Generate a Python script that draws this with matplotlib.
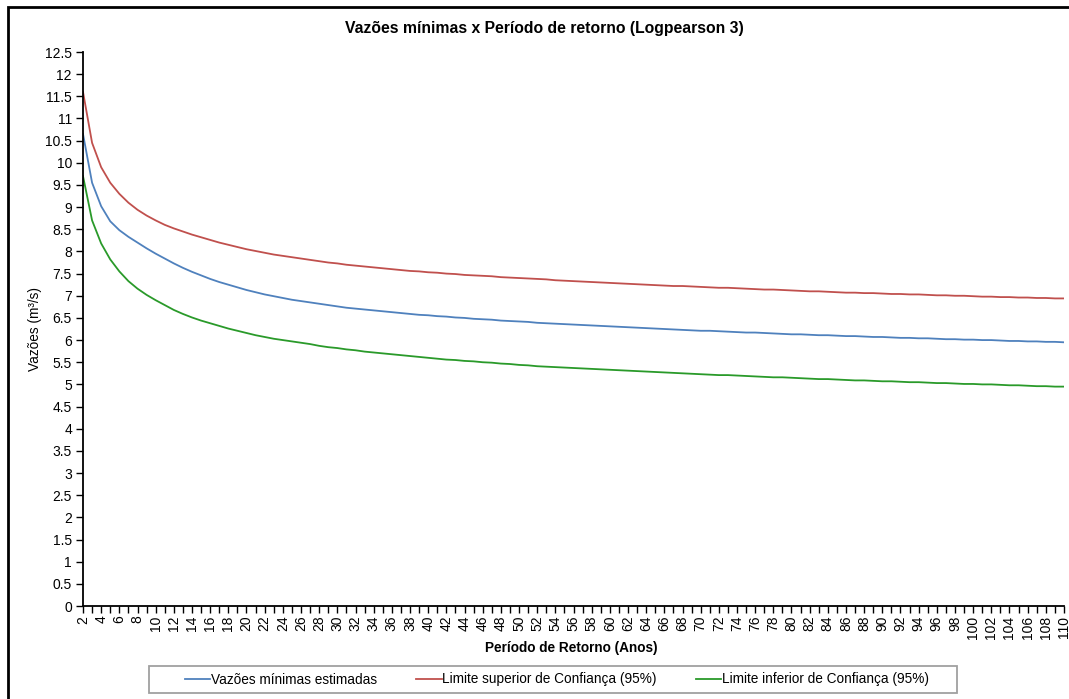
import numpy as np
import matplotlib
matplotlib.use('Agg')
import matplotlib.pyplot as plt
from matplotlib.patches import Rectangle

plt.rcParams['font.family'] = ['Liberation Sans', 'DejaVu Sans']

# Periodo de retorno (anos)
periodo = list(range(2, 111))

vazao_estimada = [
    10.65, 9.55, 9.02, 8.68, 8.48, 8.33, 8.20, 8.07, 7.95, 7.84,
    7.73, 7.63, 7.54, 7.46, 7.38, 7.31, 7.25, 7.19, 7.13, 7.08,
    7.03, 6.99, 6.95, 6.91, 6.88, 6.85, 6.82, 6.79, 6.76, 6.73,
    6.71, 6.69, 6.67, 6.65, 6.63, 6.61, 6.59, 6.57, 6.56, 6.54,
    6.53, 6.51, 6.50, 6.48, 6.47, 6.46, 6.44, 6.43, 6.42, 6.41,
    6.39, 6.38, 6.37, 6.36, 6.35, 6.34, 6.33, 6.32, 6.31, 6.30,
    6.29, 6.28, 6.27, 6.26, 6.25, 6.24, 6.23, 6.22, 6.21, 6.21,
    6.20, 6.19, 6.18, 6.17, 6.17, 6.16, 6.15, 6.14, 6.13, 6.13,
    6.12, 6.11, 6.11, 6.10, 6.09, 6.09, 6.08, 6.07, 6.07, 6.06,
    6.05, 6.05, 6.04, 6.04, 6.03, 6.02, 6.02, 6.01, 6.01, 6.00,
    6.00, 5.99, 5.98, 5.98, 5.97, 5.97, 5.96, 5.96, 5.95]

limite_superior = [
    11.60, 10.45, 9.90, 9.55, 9.30, 9.10, 8.94, 8.81, 8.70, 8.60,
    8.52, 8.45, 8.38, 8.32, 8.26, 8.20, 8.15, 8.10, 8.05, 8.01,
    7.97, 7.93, 7.90, 7.87, 7.84, 7.81, 7.78, 7.75, 7.73, 7.70,
    7.68, 7.66, 7.64, 7.62, 7.60, 7.58, 7.56, 7.55, 7.53, 7.52,
    7.50, 7.49, 7.47, 7.46, 7.45, 7.44, 7.42, 7.41, 7.40, 7.39,
    7.38, 7.37, 7.35, 7.34, 7.33, 7.32, 7.31, 7.30, 7.29, 7.28,
    7.27, 7.26, 7.25, 7.24, 7.23, 7.22, 7.22, 7.21, 7.20, 7.19,
    7.18, 7.18, 7.17, 7.16, 7.15, 7.14, 7.14, 7.13, 7.12, 7.11,
    7.10, 7.10, 7.09, 7.08, 7.07, 7.07, 7.06, 7.06, 7.05, 7.04,
    7.04, 7.03, 7.03, 7.02, 7.01, 7.01, 7.00, 7.00, 6.99, 6.98,
    6.98, 6.97, 6.97, 6.96, 6.96, 6.95, 6.95, 6.94, 6.94]

limite_inferior = [
    9.70, 8.70, 8.18, 7.82, 7.55, 7.33, 7.16, 7.02, 6.90, 6.79,
    6.68, 6.59, 6.51, 6.44, 6.38, 6.32, 6.26, 6.21, 6.16, 6.11,
    6.07, 6.03, 6.00, 5.97, 5.94, 5.91, 5.87, 5.84, 5.82, 5.79,
    5.77, 5.74, 5.72, 5.70, 5.68, 5.66, 5.64, 5.62, 5.60, 5.58,
    5.56, 5.55, 5.53, 5.52, 5.50, 5.49, 5.47, 5.46, 5.44, 5.43,
    5.41, 5.40, 5.39, 5.38, 5.37, 5.36, 5.35, 5.34, 5.33, 5.32,
    5.31, 5.30, 5.29, 5.28, 5.27, 5.26, 5.25, 5.24, 5.23, 5.22,
    5.21, 5.21, 5.20, 5.19, 5.18, 5.17, 5.16, 5.16, 5.15, 5.14,
    5.13, 5.12, 5.12, 5.11, 5.10, 5.09, 5.09, 5.08, 5.07, 5.07,
    5.06, 5.05, 5.05, 5.04, 5.03, 5.03, 5.02, 5.01, 5.01, 5.00,
    5.00, 4.99, 4.98, 4.98, 4.97, 4.96, 4.96, 4.95, 4.95]

W, H = 1069, 699
fig = plt.figure(figsize=(W / 100, H / 100), dpi=100)
ax = fig.add_axes([83 / W, 1 - 606 / H, (1064 - 83) / W, (606 - 52) / H])

ax.plot(periodo, vazao_estimada, color='#4f81bd', lw=1.3,
        label='Vazões mínimas estimadas')
ax.plot(periodo, limite_superior, color='#c0504d', lw=1.3,
        label='Limite superior de Confiança (95%)')
ax.plot(periodo, limite_inferior, color='#2a9a2a', lw=1.3,
        label='Limite inferior de Confiança (95%)')

ax.set_xlim(2, 110)
ax.set_ylim(0, 12.5)
ax.set_yticks(np.arange(0, 12.51, 0.5))
ax.set_yticklabels(['%g' % v for v in np.arange(0, 12.51, 0.5)])
ax.set_xticks(range(2, 111, 2))
ax.set_xticks(range(2, 111), minor=True)
ax.set_xticklabels([str(v) for v in range(2, 111, 2)], rotation=90)
ax.tick_params(axis='both', which='both', direction='out', labelsize=10,
               width=1, color='black', length=5)
ax.tick_params(axis='y', pad=3)
ax.tick_params(axis='x', which='major', pad=2)

for s in ['top', 'right']:
    ax.spines[s].set_visible(False)
for s in ['left', 'bottom']:
    ax.spines[s].set_linewidth(1.3)

fig.text(35 / W, 1 - 329 / H, 'Vazões (m³/s)', rotation=90,
         ha='center', va='center', fontsize=9.8)
fig.text(571 / W, 1 - 648 / H, 'Período de Retorno (Anos)',
         ha='center', va='center', fontsize=9.8, fontweight='bold')
fig.text(544 / W, 1 - 28 / H, 'Vazões mínimas x Período de retorno (Logpearson 3)',
         ha='center', va='center', fontsize=11.3, fontweight='bold')

leg = fig.legend(loc='center', bbox_to_anchor=(557 / W, 1 - 679.5 / H), ncol=3,
                 fontsize=9.8, frameon=False, handlelength=1.85,
                 handletextpad=0.05, columnspacing=2.9)

# caixa da legenda
fig.patches.append(Rectangle((149 / W, 1 - 693 / H), (957 - 149) / W, 27 / H,
                             transform=fig.transFigure, fill=False,
                             edgecolor='#a0a0a0', lw=1.3))

# moldura externa do grafico
fig.patches.append(Rectangle((8 / W, -0.1), 1.1, 1.1 - 7 / H,
                             transform=fig.transFigure, fill=False,
                             edgecolor='black', lw=2))

fig.savefig('out.png', dpi=100)
